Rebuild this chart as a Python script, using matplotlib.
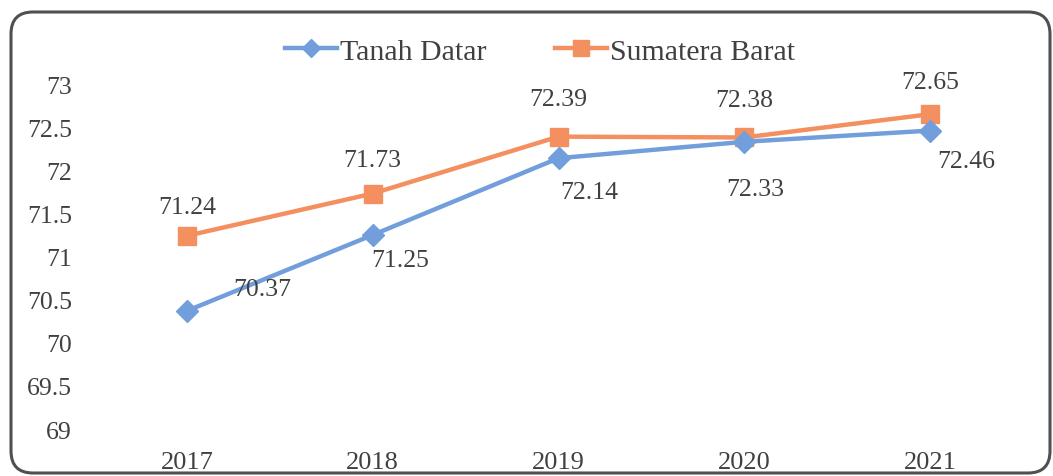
import matplotlib
matplotlib.use("Agg")
import matplotlib.pyplot as plt
from matplotlib.patches import FancyBboxPatch

years = ["2017", "2018", "2019", "2020", "2021"]
tanah_datar = [70.37, 71.25, 72.14, 72.33, 72.46]
sumatera_barat = [71.24, 71.73, 72.39, 72.38, 72.65]
yticks = [69, 69.5, 70, 70.5, 71, 71.5, 72, 72.5, 73]
ytick_labels = ["69", "69.5", "70", "70.5", "71", "71.5", "72", "72.5", "73"]

# label offsets (points) for placement
td_offsets = [(54, 16), (20, -18), (22, -24), (8, -34), (26, -22)]
sb_offsets = [(0, 21), (0, 24), (0, 27), (0, 27), (0, 23)]

plt.rcParams['font.family'] = ['Liberation Serif', 'DejaVu Serif']
text_color = "#404040"
blue = "#729FDC"
orange = "#F4905F"

fig = plt.figure(figsize=(10.53, 4.77), dpi=100)
ax = fig.add_axes([0.0893, 0.0985, 0.8822, 0.7233])

x = list(range(len(years)))
ax.plot(x, tanah_datar, color=blue, lw=3.2, marker='D', ms=11, label="Tanah Datar", zorder=3)
ax.plot(x, sumatera_barat, color=orange, lw=3.2, marker='s', ms=13, label="Sumatera Barat", zorder=2)

for i, v in enumerate(tanah_datar):
    ax.annotate(f"{v:.2f}", (i, v), xytext=td_offsets[i], textcoords='offset points',
                ha='center', va='center', fontsize=18.5, color=text_color)
for i, v in enumerate(sumatera_barat):
    ax.annotate(f"{v:.2f}", (i, v), xytext=sb_offsets[i], textcoords='offset points',
                ha='center', va='center', fontsize=18.5, color=text_color)

ax.set_xlim(-0.5, len(years) - 0.5)
ax.set_ylim(69, 73)
ax.set_xticks(x)
ax.set_xticklabels(years, fontsize=19, color=text_color)
ax.set_yticks(yticks)
ax.set_yticklabels(ytick_labels, fontsize=18.5, color=text_color)
ax.tick_params(length=0, pad=16, axis='y')
ax.tick_params(length=0, pad=16, axis='x')
for s in ax.spines.values():
    s.set_visible(False)

fig.legend(loc='center', bbox_to_anchor=(0.513, 0.89), ncol=2, frameon=False,
           fontsize=21.5, handlelength=1.75, handletextpad=0.1, columnspacing=2.3,
           labelcolor=text_color, markerscale=0.85)

border = FancyBboxPatch((11, 3), 1039, 461, boxstyle="round,pad=0,rounding_size=22",
                        transform=None, fill=False, edgecolor="#505050", lw=2.2)
fig.patches.append(border)

fig.savefig("out.png", dpi=100)
